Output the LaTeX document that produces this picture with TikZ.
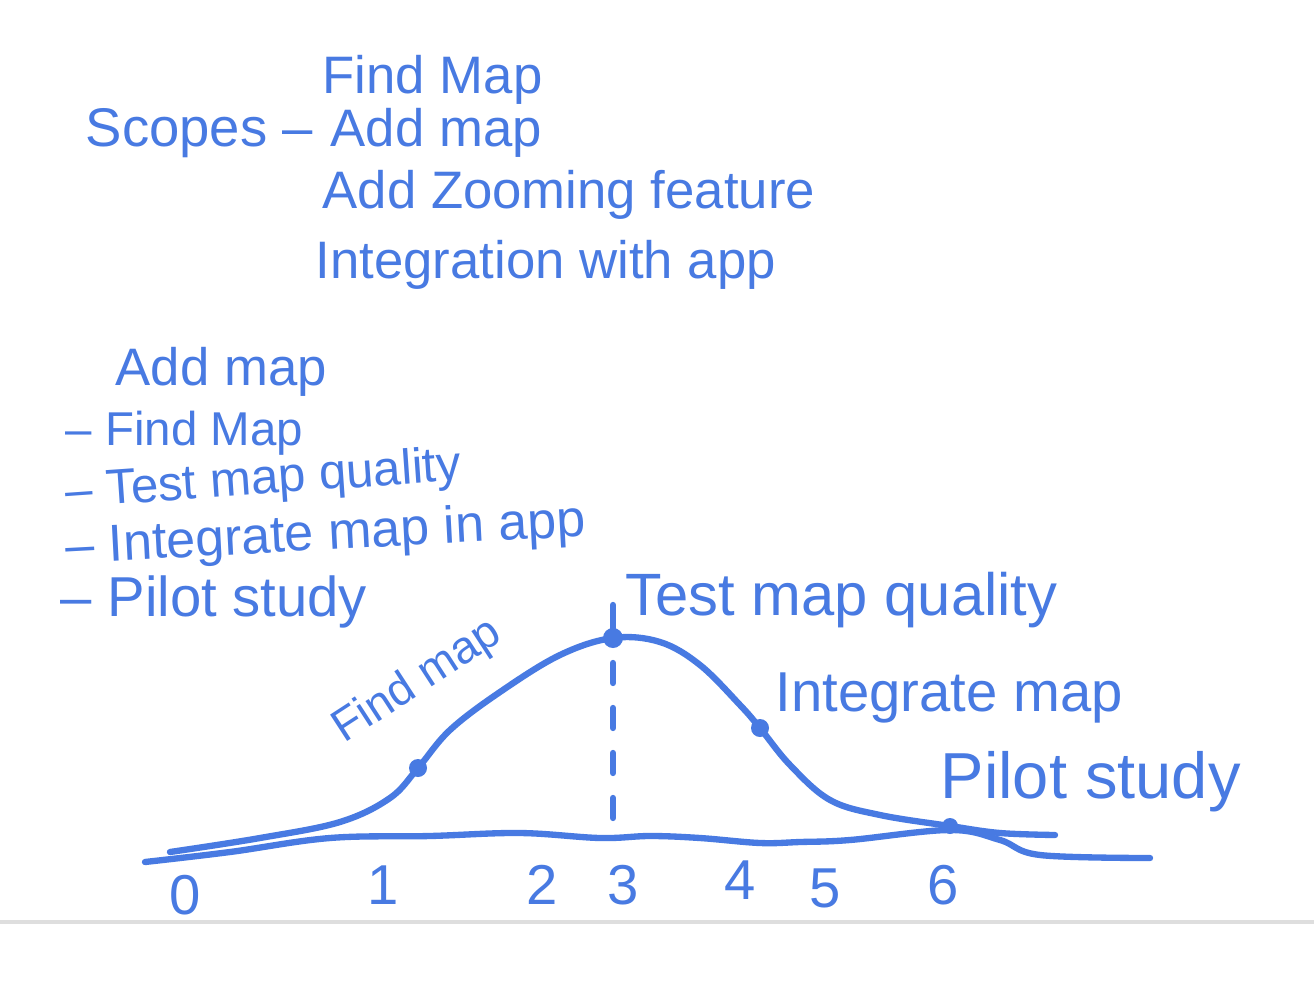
\documentclass[tikz,border=0pt]{standalone}
\usepackage{fontspec}
\setsansfont{Liberation Sans}
\definecolor{ink}{RGB}{72,122,226}
\definecolor{rule}{RGB}{222,222,222}
\tikzset{
  hand/.style={text=ink, font=\sffamily\fontsize{#1}{#1}\selectfont, inner sep=0pt},
  hand/.default=15,
  pen/.style={draw=ink, line width=1.8pt, line cap=round, line join=round},
}

\begin{document}
\begin{tikzpicture}
\useasboundingbox (0,0) rectangle (13.14,-9.96);
\fill[white] (0,0) rectangle (13.14,-9.96);

% scopes
\node[hand=15.5, anchor=west] (scopes) at (0.85,-1.33) {Scopes --};
\node[hand, anchor=west] (sfind) at (3.22,-0.80) {Find Map};
\node[hand, anchor=west] (sadd) at (3.30,-1.33) {Add map};
\node[hand, anchor=west] (szoom) at (3.22,-1.95) {Add Zooming feature};
\node[hand, anchor=west] (sint) at (3.15,-2.65) {Integration with app};

% task list
\node[hand=15, anchor=west] (tadd) at (1.15,-3.72) {Add map};
\node[hand=13.5, anchor=west] (tfind) at (0.65,-4.33) {-- Find Map};
\node[hand=14, anchor=west, rotate=4] (ttest) at (0.65,-4.95) {-- Test map quality};
\node[hand=14.8, anchor=west, rotate=3] (tint) at (0.65,-5.50) {-- Integrate map in app};
\node[hand=16, anchor=west] (tpilot) at (0.60,-6.02) {-- Pilot study};

% axis and curve
\draw[pen] plot[smooth, tension=0.6] coordinates {(1.45,-8.62) (2.30,-8.52) (3.30,-8.38) (4.30,-8.36) (5.20,-8.33) (6.00,-8.38) (6.50,-8.36) (7.00,-8.38) (7.60,-8.43) (8.00,-8.42) (8.50,-8.40) (9.50,-8.30) (10.00,-8.40) (10.40,-8.55) (11.50,-8.58)};
\draw[pen] plot[smooth, tension=0.6] coordinates {(1.70,-8.52) (2.60,-8.38) (3.40,-8.22) (3.90,-7.98) (4.18,-7.68) (4.50,-7.30) (5.00,-6.92) (5.60,-6.55) (6.13,-6.38) (6.60,-6.42) (7.00,-6.65) (7.40,-7.05) (7.60,-7.28) (7.90,-7.65) (8.30,-8.00) (8.80,-8.15) (9.50,-8.26) (10.00,-8.33) (10.55,-8.35)};

\coordinate (peak) at (6.13,-6.38);
\coordinate (foot) at (6.13,-8.25);
\coordinate (tick) at (6.13,-6.05);
\draw[pen] (tick) -- (peak);
\draw[pen, dash pattern=on 0.2cm off 0.25cm] (peak) ++(0,-0.25) -- (foot);

\fill[ink] (4.18,-7.68) circle (0.09);
\fill[ink] (peak) circle (0.10);
\fill[ink] (7.60,-7.28) circle (0.09);
\fill[ink] (9.50,-8.26) circle (0.08);

% stage labels
\node[hand=13, rotate=33] (lfind) at (4.18,-6.82) {Find map};
\node[hand=17, anchor=west] (ltest) at (6.25,-6.00) {Test map quality};
\node[hand=16, anchor=west] (lint) at (7.75,-6.98) {Integrate map};
\node[hand=18.5, anchor=west] (lpilot) at (9.40,-7.82) {Pilot study};

% numbers
\node[hand=16] (n0) at (1.85,-8.95) {0};
\node[hand=16] (n1) at (3.83,-8.85) {1};
\node[hand=16] (n2) at (5.42,-8.85) {2};
\node[hand=16] (n3) at (6.23,-8.85) {3};
\node[hand=16] (n4) at (7.40,-8.80) {4};
\node[hand=16] (n5) at (8.25,-8.88) {5};
\node[hand=16] (n6) at (9.43,-8.85) {6};

\draw[rule, line width=1pt] (0,-9.22) -- (13.14,-9.22);
\end{tikzpicture}
\end{document}
